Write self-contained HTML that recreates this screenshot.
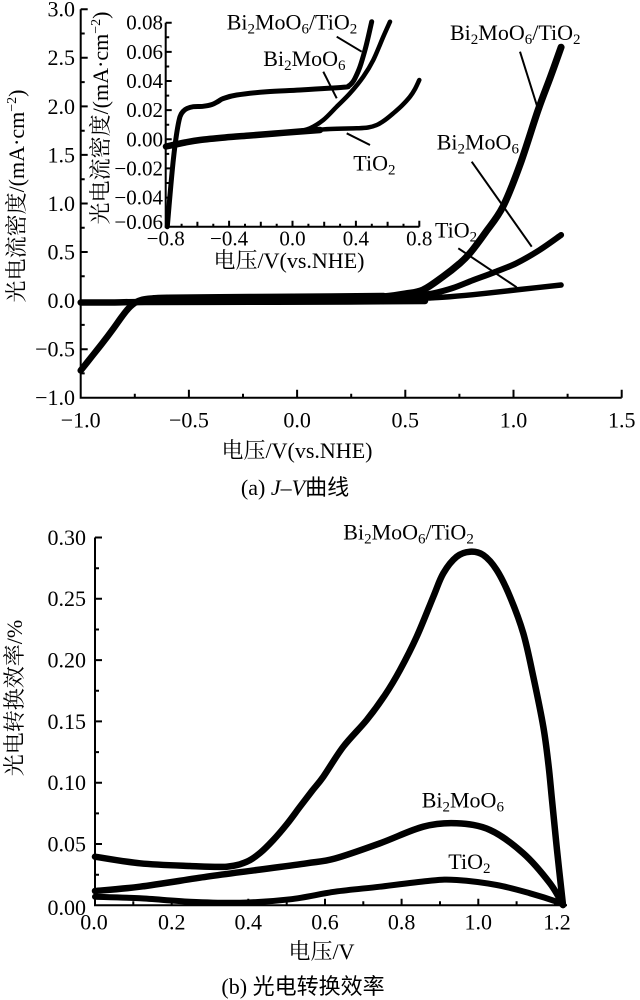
<!DOCTYPE html>
<html><head><meta charset="utf-8"><style>
html,body{margin:0;padding:0;background:#fff;}
svg{display:block;}
text{font-family:"Liberation Serif","Noto Serif CJK SC","Noto Serif CJK JP",serif;fill:#000;}
.cap{font-family:"Liberation Serif","Noto Sans CJK SC",sans-serif;}
</style></head><body>
<svg width="640" height="1000" viewBox="0 0 640 1000" xmlns="http://www.w3.org/2000/svg">
<rect width="640" height="1000" fill="#fff"/>

<!-- ===== TOP CHART ===== -->
<g stroke="#000" stroke-width="2" fill="none">
  <path d="M80.7,9.3 V397.7 H621.7"/>
  <path d="M80.7,9.3h7M80.7,57.8h7M80.7,106.4h7M80.7,154.9h7M80.7,203.5h7M80.7,252h7M80.7,300.6h7M80.7,349.2h7"/>
  <path d="M80.7,33.5h4M80.7,82.1h4M80.7,130.7h4M80.7,179.2h4M80.7,227.8h4M80.7,276.3h4M80.7,324.9h4M80.7,373.4h4"/>
  <path d="M188.9,397.7v-8M297.1,397.7v-8M405.3,397.7v-8M513.5,397.7v-8M621.7,397.7v-8"/>
  <path d="M134.8,397.7v-4M243,397.7v-4M351.2,397.7v-4M459.4,397.7v-4M567.6,397.7v-4"/>
</g>
<g font-size="22" text-anchor="end">
  <text x="75" y="16.7">3.0</text>
  <text x="75" y="65.2">2.5</text>
  <text x="75" y="113.8">2.0</text>
  <text x="75" y="162.3">1.5</text>
  <text x="75" y="210.9">1.0</text>
  <text x="75" y="259.4">0.5</text>
  <text x="75" y="308">0.0</text>
  <text x="75" y="356.6">−0.5</text>
  <text x="75" y="405">−1.0</text>
</g>
<g font-size="22" text-anchor="middle">
  <text x="80.7" y="427.5">−1.0</text>
  <text x="188.9" y="427.5">−0.5</text>
  <text x="297.1" y="427.5">0.0</text>
  <text x="405.3" y="427.5">0.5</text>
  <text x="513.5" y="427.5">1.0</text>
  <text x="621.7" y="427.5">1.5</text>
</g>
<text x="297" y="458" font-size="22" text-anchor="middle">电压/V(vs.NHE)</text>
<text transform="translate(24,196) rotate(-90)" font-size="22" text-anchor="middle">光电流密度/(mA·cm<tspan font-size="14" dy="-8">−2</tspan><tspan dy="8">)</tspan></text>
<text class="cap" x="295" y="495" font-size="22" text-anchor="middle">(a) <tspan font-style="italic">J</tspan>–<tspan font-style="italic">V</tspan>曲线</text>

<g stroke="#000" fill="none" stroke-linejoin="round" stroke-linecap="round">
  <polyline class="s" stroke-width="6.5" points="80.7,302.5 110,302.5 145,302 250,301.8 350,301.5 425,301"/>
  <polyline class="s" stroke-width="6.5" points="80.7,370.5 91.5,356.9 102.3,343.3 113.2,328.8 122,316.5 128.5,308.4 135,302.8 142,299.8 152,298.5 167.3,297.7 250,297 330,296.5 383.7,296"/>
  <polyline class="s" stroke-width="7" points="370,297 383.7,296.7 405.3,293.8 423,289.9 442.9,276.7 459.4,263.7 469.8,253.3 485.4,232.6 502.9,206.7 520,164.7 538,110.3 550.3,77.3 561.1,47.2"/>
  <polyline class="s" stroke-width="6" points="380,297.5 394.5,296.7 416.1,295.3 433,293.3 452.9,288 473,280.2 494,272.4 516.3,263.3 539.4,250.1 561.1,235"/>
  <polyline class="s" stroke-width="5.5" points="400,299 416.1,298.7 433.4,297.7 449.7,296.7 481.1,293.8 516.3,289.9 561.1,285"/>
</g>
<g stroke="#000" stroke-width="2">
  <line x1="520" y1="51.7" x2="538.3" y2="110"/>
  <line x1="471.7" y1="161.7" x2="531.7" y2="246.7"/>
  <line x1="458.3" y1="248.3" x2="516.7" y2="287.3"/>
</g>
<g font-size="22">
  <text x="450" y="40">Bi<tspan font-size="15" dy="4">2</tspan><tspan dy="-4">MoO</tspan><tspan font-size="15" dy="4">6</tspan><tspan dy="-4">/TiO</tspan><tspan font-size="15" dy="4">2</tspan></text>
  <text x="436.7" y="149.3">Bi<tspan font-size="15" dy="4">2</tspan><tspan dy="-4">MoO</tspan><tspan font-size="15" dy="4">6</tspan></text>
  <text x="435" y="237.3">TiO<tspan font-size="15" dy="4">2</tspan></text>
</g>

<!-- ===== INSET ===== -->
<g stroke="#000" stroke-width="2" fill="none">
  <path d="M165.7,22.7 V226.7 H419.3"/>
  <path d="M165.7,22.7h6M165.7,51.9h6M165.7,81h6M165.7,110.1h6M165.7,139.3h6M165.7,168.4h6M165.7,197.6h6"/>
  <path d="M165.7,37.3h3.5M165.7,66.5h3.5M165.7,95.6h3.5M165.7,124.7h3.5M165.7,153.9h3.5M165.7,183h3.5M165.7,212.1h3.5"/>
  <path d="M197.4,226.7v-5M229.1,226.7v-6M260.8,226.7v-5M292.5,226.7v-6M324.2,226.7v-5M355.9,226.7v-6M387.6,226.7v-5M419.3,226.7v-6"/>
  <path d="M181.6,226.7v-3M213.3,226.7v-3M245,226.7v-3M276.7,226.7v-3M308.4,226.7v-3M340.1,226.7v-3M371.8,226.7v-3M403.5,226.7v-3"/>
</g>
<g font-size="21" text-anchor="end">
  <text x="163" y="29.5">0.08</text>
  <text x="163" y="58.9">0.06</text>
  <text x="163" y="88">0.04</text>
  <text x="163" y="117.1">0.02</text>
  <text x="163" y="146.3">0.00</text>
  <text x="163" y="175.4">−0.02</text>
  <text x="163" y="204.6">−0.04</text>
  <text x="163" y="229">−0.06</text>
</g>
<g font-size="21" text-anchor="middle">
  <text x="165.7" y="245.5">−0.8</text>
  <text x="229.1" y="245.5">−0.4</text>
  <text x="292.5" y="245.5">0.0</text>
  <text x="355.9" y="245.5">0.4</text>
  <text x="419.3" y="245.5">0.8</text>
</g>
<text x="289" y="268" font-size="22" text-anchor="middle">电压/V(vs.NHE)</text>
<text transform="translate(108,118) rotate(-90)" font-size="22" text-anchor="middle">光电流密度/(mA·cm<tspan font-size="14" dy="-8">−2</tspan><tspan dy="8">)</tspan></text>

<g stroke="#000" fill="none" stroke-linejoin="round" stroke-linecap="round">
  <polyline class="s" stroke-width="6.5" points="166,146.5 185,142.5 200,140 225,137.5 250,135.5 275,133.5 300,131.5 320,130"/>
  <polyline class="s" stroke-width="4.5" points="300,131.2 330,129 356.7,128.3 368,127.5 376.7,125 385,120 393.3,113.3 402,105.5 410,96.7 415,89 419.3,80"/>
  <polyline class="s" stroke-width="4.5" points="300,131 310,128.3 323.3,120 336.7,106.7 350,93.3 363.3,76.7 373.3,60 383.3,36.7 390,21.7"/>
  <polyline class="s" stroke-width="5" points="167.3,226.7 170,195 173.3,160 176.7,133.3 180,116.7 183.5,111 187,108.5 193.3,106.7 203,106.3 212,104.5 218,101.5 223.3,98.5 236.7,95 266.7,91.7 300,90 343.3,87.3 348.5,86 352,83 355,78.3 360,66.7 365,50 368.3,36.7 371.7,21.7"/>
</g>
<g stroke="#000" stroke-width="2">
  <line x1="336.7" y1="36.7" x2="361.7" y2="51.7"/>
  <line x1="323.3" y1="71.7" x2="336.7" y2="98.3"/>
  <line x1="346.7" y1="133.3" x2="370" y2="145"/>
</g>
<g font-size="22">
  <text x="226.7" y="29.3">Bi<tspan font-size="15" dy="4">2</tspan><tspan dy="-4">MoO</tspan><tspan font-size="15" dy="4">6</tspan><tspan dy="-4">/TiO</tspan><tspan font-size="15" dy="4">2</tspan></text>
  <text x="263.3" y="66">Bi<tspan font-size="15" dy="4">2</tspan><tspan dy="-4">MoO</tspan><tspan font-size="15" dy="4">6</tspan></text>
  <text x="353.3" y="170.7">TiO<tspan font-size="15" dy="4">2</tspan></text>
</g>

<!-- ===== BOTTOM CHART ===== -->
<g stroke="#000" stroke-width="2" fill="none">
  <path d="M95,537.5 V905.3 H567"/>
  <path d="M95,537.5h7M95,598.8h7M95,660.1h7M95,721.4h7M95,782.7h7M95,844h7"/>
  <path d="M95,568.2h4M95,629.5h4M95,690.8h4M95,752.1h4M95,813.4h4M95,874.7h4"/>
  <path d="M171.7,905.3v-6.5M248.3,905.3v-6.5M325,905.3v-6.5M401.6,905.3v-6.5M478.3,905.3v-6.5M555,905.3v-6.5"/>
  <path d="M133.3,905.3v-4M210,905.3v-4M286.7,905.3v-4M363.3,905.3v-4M440,905.3v-4M516.6,905.3v-4"/>
</g>
<g font-size="22" text-anchor="end">
  <text x="86" y="544.9">0.30</text>
  <text x="86" y="606.2">0.25</text>
  <text x="86" y="667.5">0.20</text>
  <text x="86" y="728.8">0.15</text>
  <text x="86" y="790.1">0.10</text>
  <text x="86" y="851.4">0.05</text>
  <text x="86" y="915">0.00</text>
</g>
<g font-size="22" text-anchor="middle">
  <text x="94" y="929.5">0.0</text>
  <text x="171.7" y="929.5">0.2</text>
  <text x="248.3" y="929.5">0.4</text>
  <text x="325" y="929.5">0.6</text>
  <text x="401.6" y="929.5">0.8</text>
  <text x="478.3" y="929.5">1.0</text>
  <text x="557" y="929.5">1.2</text>
</g>
<text x="321.5" y="959" font-size="22" text-anchor="middle">电压/V</text>
<text transform="translate(22,698) rotate(-90)" font-size="22" text-anchor="middle">光电转换效率/%</text>
<text class="cap" x="303" y="994" font-size="22" text-anchor="middle">(b) 光电转换效率</text>

<g stroke="#000" fill="none" stroke-linejoin="round" stroke-linecap="round">
  <polyline class="s" stroke-width="6.5" points="95,856.7 140,863.3 190,866 226.7,866.7 246.7,861.7 260,853 273.3,840 287,824 300,806.7 312,791 323.3,776.7 343.3,746.7 366.7,720 385,695 400,670 416.7,636.7 433.3,596.7 443.3,573.3 456.7,556.7 470,551.7 483.3,555 496.7,570 510,596.7 523.3,633.3 533.3,676.7 543.3,726.7 548.5,765 552,800 557,850 563,905"/>
  <polyline class="s" stroke-width="6.5" points="95,891 140,886.7 206.7,876.7 256.7,870 306.7,863.3 335,858.5 380,843.3 423.3,826.7 456.7,823.3 490,830 523.3,853.3 550,883.3 563,905"/>
  <polyline class="s" stroke-width="6" points="95,896.7 140,898.3 190,901.7 240,902.7 290,899.3 335,891.7 380,886.7 430,880.7 456.7,880 496.7,885 530,893.3 556.7,901.7 563,905"/>
</g>
<g font-size="22">
  <text x="343.3" y="539.3">Bi<tspan font-size="15" dy="4">2</tspan><tspan dy="-4">MoO</tspan><tspan font-size="15" dy="4">6</tspan><tspan dy="-4">/TiO</tspan><tspan font-size="15" dy="4">2</tspan></text>
  <text x="421.7" y="807.7">Bi<tspan font-size="15" dy="4">2</tspan><tspan dy="-4">MoO</tspan><tspan font-size="15" dy="4">6</tspan></text>
  <text x="448.3" y="869">TiO<tspan font-size="15" dy="4">2</tspan></text>
</g>
</svg>
<script>
(function(){
  var NS="http://www.w3.org/2000/svg";
  var pls=document.querySelectorAll("polyline.s");
  for(var k=0;k<pls.length;k++){
    var pl=pls[k];
    var pts=pl.getAttribute("points").trim().split(/\s+/).map(function(s){return s.split(",").map(Number);});
    if(pts.length<3)continue;
    var d="M"+pts[0][0]+","+pts[0][1];
    for(var i=0;i<pts.length-1;i++){
      var p0=pts[i-1]||pts[i],p1=pts[i],p2=pts[i+1],p3=pts[i+2]||pts[i+1];
      var c1x=p1[0]+(p2[0]-p0[0])/6,c1y=p1[1]+(p2[1]-p0[1])/6;
      var c2x=p2[0]-(p3[0]-p1[0])/6,c2y=p2[1]-(p3[1]-p1[1])/6;
      d+="C"+c1x.toFixed(2)+","+c1y.toFixed(2)+" "+c2x.toFixed(2)+","+c2y.toFixed(2)+" "+p2[0]+","+p2[1];
    }
    var path=document.createElementNS(NS,"path");
    path.setAttribute("d",d);
    path.setAttribute("stroke-width",pl.getAttribute("stroke-width"));
    path.setAttribute("fill","none");
    pl.parentNode.replaceChild(path,pl);
  }
})();
</script>
</body></html>
